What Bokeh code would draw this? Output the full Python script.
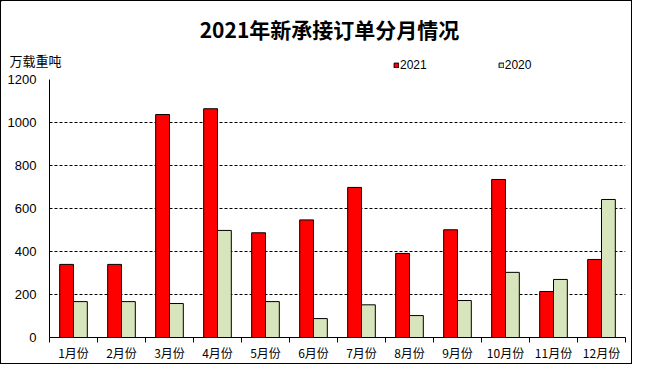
from bokeh.plotting import figure
from bokeh.layouts import column
from bokeh.models import (ColumnDataSource, FixedTicker, Label, Legend, LegendItem, Range1d)
from bokeh.embed import file_html
from bokeh.resources import INLINE
from bokeh.transform import dodge

months = ["1月份", "2月份", "3月份", "4月份", "5月份", "6月份",
          "7月份", "8月份", "9月份", "10月份", "11月份", "12月份"]
v2021 = [340, 340, 1037, 1064, 487, 547, 698, 391, 501, 735, 214, 363]
v2020 = [167, 167, 158, 498, 167, 88, 152, 102, 172, 303, 270, 642]
y_ticks = [0, 200, 400, 600, 800, 1000, 1200]
title_text = "2021年新承接订单分月情况"
unit_text = "万载重吨"
series_names = ["2021", "2020"]
series_colors = ["#FF0000", "#D8E4BC"]

W = 630
TOP_H = 72

# ---------- header strip: title, unit, legend ----------
head = figure(width=W, height=TOP_H, output_backend="svg", toolbar_location=None,
              x_range=Range1d(0, W), y_range=Range1d(TOP_H, 0),
              x_axis_type=None, y_axis_type=None,
              min_border_left=0, min_border_right=0, min_border_top=0, min_border_bottom=0)
head.outline_line_color = None
head.grid.visible = False
head.background_fill_color = "white"
head.border_fill_color = "white"

head.add_layout(Label(x=328, y=27, text=title_text,
                      text_font="Noto Sans CJK SC", text_font_size="21px", text_font_style="bold",
                      text_align="center", text_baseline="middle", text_color="black"))
head.add_layout(Label(x=8, y=59, text=unit_text,
                      text_font="Noto Sans CJK SC", text_font_size="13px",
                      text_align="left", text_baseline="middle", text_color="black"))

# legend proxies (one hidden point each, outside the visible range)
leg_r = [head.vbar(x=[-100], top=[0], width=1, fill_color=c, line_color="black")
         for c in series_colors]
legend = Legend(items=[LegendItem(label=n, renderers=[r]) for n, r in zip(series_names, leg_r)],
                orientation="horizontal", location=(392, 1),
                glyph_width=6, glyph_height=6, label_standoff=1, spacing=71,
                padding=0, margin=0, border_line_color=None, background_fill_alpha=0,
                label_text_font="Liberation Sans", label_text_font_size="12px",
                label_text_color="black", label_height=12)
head.add_layout(legend)

# ---------- main chart ----------
pos = [i + 0.5 for i in range(len(months))]
src = ColumnDataSource(dict(pos=pos, v2021=v2021, v2020=v2020))

p = figure(width=W, height=362 - TOP_H, output_backend="svg", toolbar_location=None,
           x_range=Range1d(0, len(months)), y_range=Range1d(0, 1200),
           min_border_left=48, min_border_right=6, min_border_top=6, min_border_bottom=26)
p.outline_line_color = None
p.background_fill_color = "white"
p.border_fill_color = "white"

for fig in (head, p):
    if "frame_align" in fig.properties():
        fig.frame_align = False

bw = 0.288
p.vbar(x=dodge("pos", -bw / 2, range=p.x_range), top="v2021", width=bw, source=src,
       fill_color=series_colors[0], line_color="black", line_width=1)
p.vbar(x=dodge("pos", bw / 2, range=p.x_range), top="v2020", width=bw, source=src,
       fill_color=series_colors[1], line_color="black", line_width=1)

p.xgrid.visible = False
p.ygrid.ticker = FixedTicker(ticks=y_ticks)
p.ygrid.grid_line_color = "black"
p.ygrid.grid_line_dash = "3 2"
p.ygrid.grid_line_width = 1

p.yaxis.ticker = FixedTicker(ticks=y_ticks)
p.yaxis.major_tick_line_color = None
p.yaxis.major_tick_out = 0
p.yaxis.major_tick_in = 0
p.yaxis.minor_tick_line_color = None
p.yaxis.axis_line_color = "black"
p.yaxis.major_label_text_font = "Liberation Sans"
p.yaxis.major_label_text_font_size = "13px"
p.yaxis.major_label_text_color = "black"
p.yaxis.major_label_standoff = 13

p.xaxis.ticker = FixedTicker(ticks=pos, minor_ticks=list(range(len(months) + 1)))
p.xaxis.major_label_overrides = {pp: m for pp, m in zip(pos, months)}
p.xaxis.major_tick_line_color = None
p.xaxis.major_tick_out = 0
p.xaxis.major_tick_in = 0
p.xaxis.minor_tick_line_color = "black"
p.xaxis.minor_tick_out = 5
p.xaxis.minor_tick_in = 0
p.xaxis.axis_line_color = "black"
p.xaxis.major_label_text_font = "Noto Sans CJK SC"
p.xaxis.major_label_text_font_size = "12px"
p.xaxis.major_label_text_color = "black"
p.xaxis.major_label_standoff = 1

layout = column(head, p, spacing=0)
layout.styles = {"border": "1px solid black", "background-color": "white"}

open("out.html", "w").write(file_html(layout, INLINE))
